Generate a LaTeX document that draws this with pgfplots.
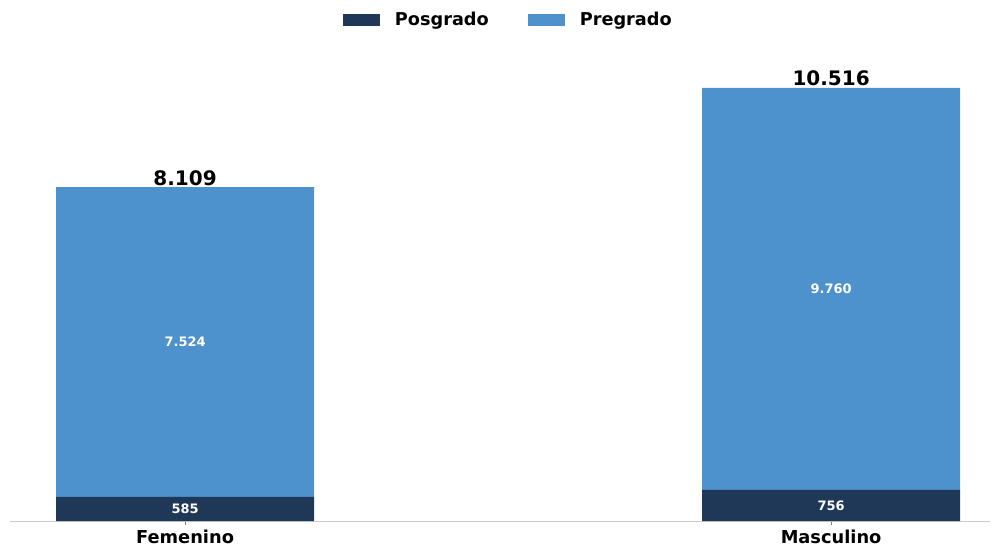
\documentclass[border=0pt]{standalone}
\usepackage{fontspec}
\setmainfont{DejaVu Sans}
\usepackage{pgfplots}
\pgfplotsset{compat=1.18}
\definecolor{posgrado}{RGB}{31,56,88}
\definecolor{pregrado}{RGB}{77,146,204}
\pgfplotsset{
    frame/.style={scale only axis, width=980pt, height=481pt,
        xmin=-0.271, xmax=1.246, ymin=0, ymax=11680, clip=false},
}
\tikzset{
    inlabel/.style={anchor=center, inner sep=0pt, text=white,
        font=\bfseries\fontsize{13}{13}\selectfont},
}
\begin{document}
\begin{tikzpicture}
\begin{axis}[
    frame,
    ybar stacked, bar width=258pt,
    xtick={0,1}, xticklabels={Femenino,Masculino},
    axis x line*=bottom, axis y line=none,
    x axis line style={color=black!20, line width=0.8pt},
    x tick style={color=black!50, line width=0.8pt},
    tick align=outside, major tick length=4pt,
    xticklabel style={font=\bfseries\fontsize{17.8}{17.8}\selectfont, inner sep=1pt, yshift=-4pt},
    legend style={at={(0.508,1)}, anchor=center, yshift=20pt, draw=none, fill=none,
        legend columns=2, font=\bfseries\fontsize{17.7}{17.7}\selectfont,
        /tikz/every even column/.append style={column sep=38pt},
        nodes={inner sep=1pt}},
    legend image code/.code={\fill[#1] (0pt,-6pt) rectangle (37pt,6pt);},
    name=ax,
]
\addplot[fill=posgrado, draw=none] coordinates {(0,585) (1,756)};
\addlegendentry{\hspace{14pt}Posgrado}
\addplot[fill=pregrado, draw=none] coordinates {(0,7524) (1,9760)};
\addlegendentry{\hspace{14pt}Pregrado}
\end{axis}
\begin{axis}[frame, hide axis]
% segment labels at the middle of each segment
\addplot[draw=none, mark=none, point meta=explicit symbolic, nodes near coords,
    every node near coord/.style={inlabel}]
    coordinates {(0,292.5) [585] (1,378) [756] (0,4347) [7.524] (1,5636) [9.760]};
% totals above the bars
\addplot[draw=none, mark=none, point meta=explicit symbolic, nodes near coords,
    every node near coord/.style={anchor=base, yshift=2pt, inner sep=0pt, text=black,
        font=\bfseries\fontsize{20}{20}\selectfont}]
    coordinates {(0,8109) [8.109] (1,10516) [10.516]};
\end{axis}
\path ([xshift=-10pt,yshift=-30pt]ax.south west) rectangle ([xshift=2pt,yshift=40pt]ax.north east);
\end{tikzpicture}
\end{document}
